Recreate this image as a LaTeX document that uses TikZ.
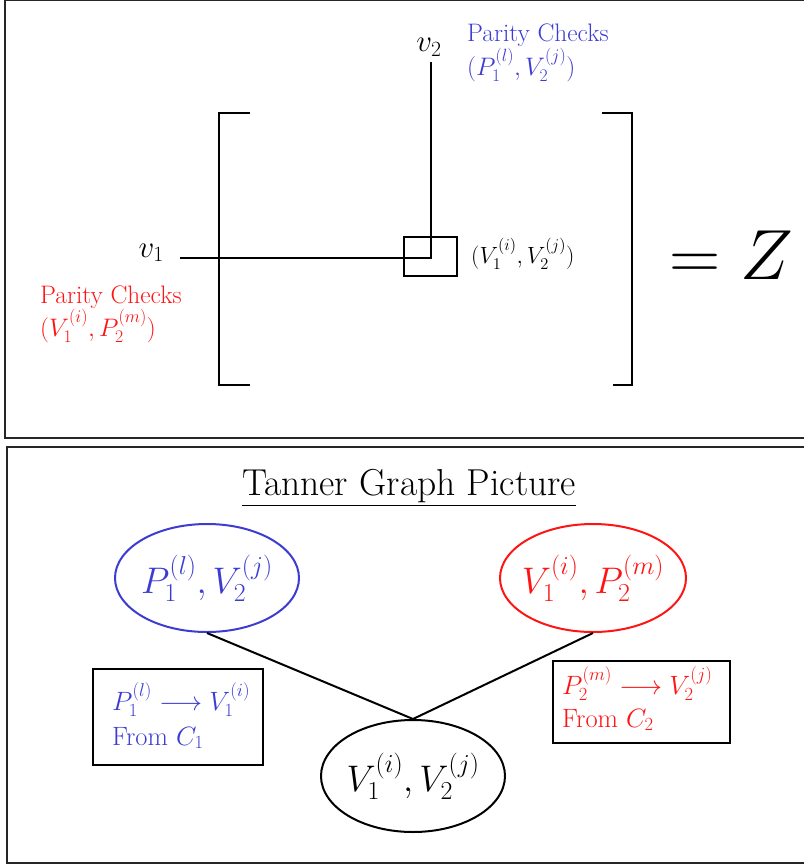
\RequirePackage{fix-cm}
\documentclass[tikz,border=0pt]{standalone}
\usepackage{amsmath}
\usetikzlibrary{shapes.geometric}
\definecolor{blueC}{RGB}{60,60,210}
\definecolor{redC}{RGB}{255,20,20}
\newcommand\fsNorm{\fontsize{25.3}{30}\selectfont}
\newcommand\fsCell{\fontsize{23.5}{28}\selectfont}
\newcommand\fsV{\fontsize{31}{36}\selectfont}
\newcommand\fsBig{\fontsize{71}{78}\selectfont}
\newcommand\fsTitle{\fontsize{37.5}{44}\selectfont}
\newcommand\fsEll{\fontsize{37}{44}\selectfont}
\newcommand\fsBox{\fontsize{26.5}{31}\selectfont}
\tikzset{
  frame/.style={line width=2.4pt, draw=black!85},
  ln/.style={line width=2pt},
  txt/.style={inner sep=0pt, font=\fsNorm},
  bubble/.style={ellipse, line width=2pt, minimum width=184pt, minimum height=108pt, inner sep=0pt, font=\fsEll},
  infobox/.style={draw, line width=2pt, inner sep=0pt},
}
\begin{document}
\begin{tikzpicture}[x=1pt,y=-1pt]
\useasboundingbox (0,0) rectangle (803,867);
% panels
\draw[frame] (5,0) rectangle (815,438);
\draw[frame] (7,447) rectangle (815,863);

% ---- top panel ----
\draw[ln] (250,113) -- (219,113) -- (219,385) -- (250,385);
\draw[ln] (602,113) -- (632,113) -- (632,385) -- (613,385);

\node[txt, font=\fsV, anchor=base east] (v1) at (164,257) {$v_1$};
\node[txt, font=\fsV, anchor=base] (v2) at (429,52) {$v_2$};
\node[draw, ln, minimum width=53pt, minimum height=39pt, inner sep=0pt] (cell) at (430,256) {};
\coordinate (cross) at (431,258);
\coordinate (hstart) at (180,258);
\coordinate (vtop) at (431,62);
\draw[ln] (hstart) -- (cross) -- (vtop);

\node[txt, font=\fsCell, anchor=base west] (cellLab) at (471,263) {$(V_1^{(i)},V_2^{(j)})$};

\node[txt, text=blueC, anchor=base west] (bpc1) at (467,42) {Parity Checks};
\node[txt, text=blueC, anchor=base west] (bpc2) at (467,75) {$(P_1^{(l)},V_2^{(j)})$};

\node[txt, text=redC, anchor=base west] (rpc1) at (40,303) {Parity Checks};
\node[txt, text=redC, anchor=base west] (rpc2) at (40,336) {$(V_1^{(i)},P_2^{(m)})$};

\node[txt, font=\fsBig] (eqZ) at (731,255) {$=Z$};

% ---- bottom panel ----
\node[txt, font=\fsTitle, anchor=base] (title) at (409,495) {\underline{Tanner Graph Picture}};

\node[bubble, draw=blueC, text=blueC] (pe) at (207,578) {\makebox[0pt]{$P_1^{(l)},V_2^{(j)}$}};
\node[bubble, draw=redC, text=redC, minimum width=186pt] (re) at (593,578) {\makebox[0pt]{$V_1^{(i)},P_2^{(m)}$}};
\node[bubble, draw=black, minimum height=112pt] (ve) at (413,776) {\makebox[0pt]{$V_1^{(i)},V_2^{(j)}$}};

\draw[ln] (pe.south) -- (ve.north);
\draw[ln] (re.south) -- (ve.north);

\node[infobox, minimum width=170pt, minimum height=96pt] (lbox) at (178,717) {};
\node[txt, font=\fsBox, text=blueC, anchor=base west] (lb1) at (112,710) {$P_1^{(l)}\longrightarrow V_1^{(i)}$};
\node[txt, font=\fsBox, text=blueC, anchor=base west] (lb2) at (112,745) {From $C_1$};

\node[infobox, minimum width=177pt, minimum height=82pt] (rbox) at (641,702) {};
\node[txt, font=\fsBox, text=redC, anchor=base west] (rb1) at (562,694) {$P_2^{(m)}\longrightarrow V_2^{(j)}$};
\node[txt, font=\fsBox, text=redC, anchor=base west] (rb2) at (562,727) {From $C_2$};
\end{tikzpicture}
\end{document}
